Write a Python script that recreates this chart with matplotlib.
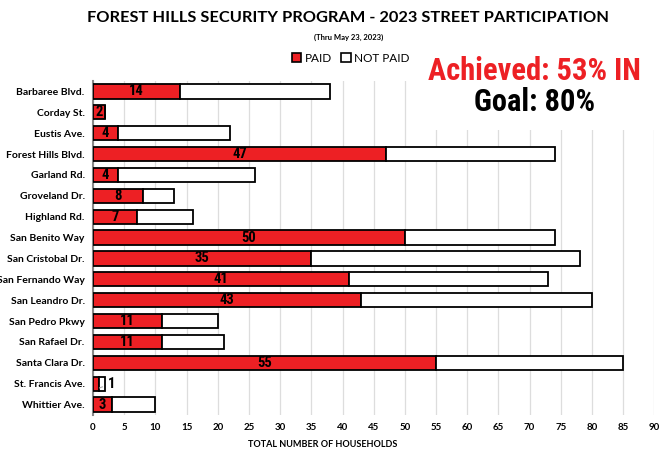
import matplotlib
matplotlib.use("Agg")
import matplotlib.pyplot as plt
from matplotlib.patches import Patch, Rectangle
from matplotlib import font_manager as fm

streets = ["Barbaree Blvd.", "Corday St.", "Eustis Ave.", "Forest Hills Blvd.", "Garland Rd.",
           "Groveland Dr.", "Highland Rd.", "San Benito Way", "San Cristobal Dr.", "San Fernando Way",
           "San Leandro Dr.", "San Pedro Pkwy", "San Rafael Dr.", "Santa Clara Dr.", "St. Francis Ave.",
           "Whittier Ave."]
paid = [14, 2, 4, 47, 4, 8, 7, 50, 35, 41, 43, 11, 11, 55, 1, 3]
total = [38, 2, 22, 74, 26, 13, 16, 74, 78, 73, 80, 20, 21, 85, 2, 10]
not_paid = [t - p for t, p in zip(total, paid)]
xticks = list(range(0, 95, 5))

RED = "#ed2024"
SANS = ["Lato", "DejaVu Sans"]

# pick a condensed bold font if one is installed
names = {f.name for f in fm.fontManager.ttflist}
NARROW = None
STRETCH = "normal"
for cand in ["Liberation Sans Narrow", "Roboto Condensed", "Open Sans Condensed", "Arial Narrow"]:
    if cand in names:
        NARROW = [cand, "DejaVu Sans"]
        break
if NARROW is None:
    for f in fm.fontManager.ttflist:
        if f.name == "DejaVu Sans" and str(f.stretch) == "condensed":
            NARROW = ["DejaVu Sans"]
            STRETCH = "condensed"
            break
if NARROW is None:
    NARROW = ["Roboto", "DejaVu Sans"]

fig = plt.figure(figsize=(6.62, 4.55), dpi=100)
ax = fig.add_axes([0.1405, 0.088, 0.848, 0.734])

y = list(range(len(streets)))
ax.barh(y, paid, height=0.68, color=RED, edgecolor="black", linewidth=1.3, zorder=3, label="PAID")
ax.barh(y, not_paid, left=paid, height=0.68, color="white", edgecolor="black", linewidth=1.3,
        zorder=3, label="NOT PAID")

lab_kw = dict(fontsize=10.5, fontweight="bold", family=NARROW, fontstretch=STRETCH, zorder=4)
for yi, p, t in zip(y, paid, total):
    if p == 1 and t > p:
        ax.annotate(str(p), xy=(p * 0.6, yi + 0.25), xytext=(2.4, yi), ha="left", va="center",
                    arrowprops=dict(arrowstyle="-", color="#aaaaaa", lw=0.8), **lab_kw)
    else:
        ax.text(p / 2, yi, str(p), ha="center", va="center", **lab_kw)

ax.set_ylim(len(streets) - 0.5, -0.5)
ax.set_xlim(0, 90)
ax.set_xticks(xticks)
ax.set_yticks(y)
ax.set_yticklabels(streets, fontsize=7.5, fontweight="bold", family=SANS)
for lbl in ax.get_xticklabels():
    lbl.set_fontsize(7)
    lbl.set_fontweight("bold")
    lbl.set_family(SANS)
ax.tick_params(axis="both", length=0, pad=6)
ax.grid(axis="x", color="#dddddd", linewidth=0.9, zorder=0)
for s in ["top", "right", "bottom"]:
    ax.spines[s].set_visible(False)
ax.spines["left"].set_color("#888888")
ax.spines["left"].set_linewidth(1.5)
ax.set_xlabel("TOTAL NUMBER OF HOUSEHOLDS", fontsize=6.5, fontweight="bold", family=SANS)
ax.xaxis.set_label_coords(0.41, -0.075)

fig.text(0.526, 0.96, "FOREST HILLS SECURITY PROGRAM - 2023 STREET PARTICIPATION",
         ha="center", va="center", fontsize=11.8, fontweight="bold", family=SANS)
fig.text(0.526, 0.918, "(Thru May 23, 2023)", ha="center", va="center", fontsize=5.5,
         fontweight="bold", family=SANS)

handles = [Patch(facecolor=RED, edgecolor="black", linewidth=1.2, label="PAID"),
           Patch(facecolor="white", edgecolor="black", linewidth=1.2, label="NOT PAID")]
fig.legend(handles=handles, loc="center", bbox_to_anchor=(0.53, 0.872), ncol=2, frameon=False,
           handlelength=0.8, handleheight=0.8, handletextpad=0.3, columnspacing=0.8,
           prop={"family": SANS, "size": 8.5})

# white box behind the achievement text (covers the grid lines there)
fig.patches.append(Rectangle((0.636, 0.714), 0.364, 0.2, transform=fig.transFigure,
                             facecolor="white", edgecolor="none", zorder=1))
fig.text(0.807, 0.845, "Achieved: 53% IN", ha="center", va="center", fontsize=22,
         fontweight="bold", color=RED, family=NARROW, fontstretch=STRETCH, zorder=5)
fig.text(0.807, 0.776, "Goal: 80%", ha="center", va="center", fontsize=22,
         fontweight="bold", color="black", family=NARROW, fontstretch=STRETCH, zorder=5)

fig.savefig("out.png", dpi=100)
